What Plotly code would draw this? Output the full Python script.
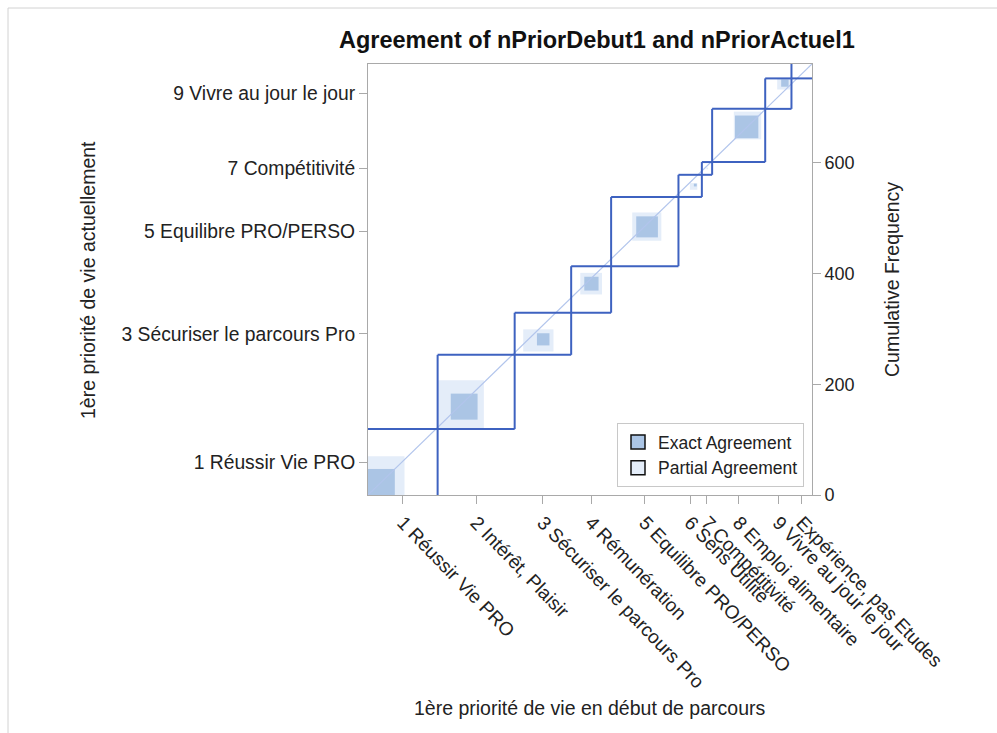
import numpy as np
import plotly.graph_objects as go

# Categories (same coding for both ratings)
labels = ["1 Réussir Vie PRO", "2 Intérêt, Plaisir", "3 Sécuriser le parcours Pro",
          "4 Rémunération", "5 Equilibre PRO/PERSO", "6 Sens Utilité",
          "7 Compétitivité", "8 Emploi alimentaire", "9 Vivre au jour le jour",
          "Expérience, pas Etudes"]

# Marginal totals: columns = début de parcours (x), rows = actuellement (y)
col_totals = [122, 135, 99, 70, 118, 41, 18, 93, 46, 36]
row_totals = [119, 134, 76, 84, 125, 40, 23, 96, 55, 26]

# Diagonal (exact agreement) counts n[i][i]
exact = [47, 47, 22, 25, 38, 5, 0, 41, 13, 0]
# Adjacent cells: upper_adj[i] = n[row i][col i+1], lower_adj[i] = n[row i+1][col i]
upper_adj = [23, 24, 7, 7, 7, 1, 2, 7, 2]
lower_adj = [17, 11, 7, 6, 6, 1, 2, 5, 3]
# Counts lying further below the diagonal band inside each column / row
col_far = [0, 0, 15, 16, 37, 20, 8, 38, 21, 30]
row_far = [0, 0, 6, 33, 46, 13, 10, 41, 35, 20]

right_ticks = [0, 200, 400, 600]

N = sum(col_totals)
X = np.concatenate([[0], np.cumsum(col_totals)])
Y = np.concatenate([[0], np.cumsum(row_totals)])
k = len(labels)

DARK = "#abc5e5"
LIGHT = "#e4edf9"
OUTLINE = "#3e62c0"
DIAG = "#b2c5ec"
FRAME = "#a9a9a9"
TXT = "#222222"
FONT = "Liberation Sans, Arial, sans-serif"


def box(x0, x1, y0, y1):
    return [x0, x1, x1, x0, x0], [y0, y0, y1, y1, y0]


fig = go.Figure()

# Partial agreement boxes, then exact agreement squares
for kind in ("partial", "exact"):
    for i in range(k):
        a = upper_adj[i - 1] if i > 0 else 0      # n[i-1][i]
        b = lower_adj[i] if i < k - 1 else 0      # n[i+1][i]
        c = lower_adj[i - 1] if i > 0 else 0      # n[i][i-1]
        d = upper_adj[i] if i < k - 1 else 0      # n[i][i+1]
        if kind == "partial":
            x0 = X[i] + col_far[i]
            x1 = x0 + a + exact[i] + b
            y0 = Y[i] + row_far[i]
            y1 = y0 + c + exact[i] + d
            color = LIGHT
        else:
            if exact[i] == 0:
                continue
            x0 = X[i] + col_far[i] + a
            x1 = x0 + exact[i]
            y0 = Y[i] + row_far[i] + c
            y1 = y0 + exact[i]
            color = DARK
        xs, ys = box(x0, x1, y0, y1)
        fig.add_trace(go.Scatter(x=xs, y=ys, mode="lines", fill="toself",
                                 fillcolor=color, line=dict(width=0, color=color),
                                 showlegend=False, hoverinfo="skip"))

# Diagonal reference line
fig.add_trace(go.Scatter(x=[0, N], y=[0, N], mode="lines",
                         line=dict(color=DIAG, width=1.2),
                         showlegend=False, hoverinfo="skip"))

# Category rectangles (column width x row height); edges on the frame are left to the axes
rx, ry = [], []
for i in range(k):
    x0, x1, y0, y1 = X[i], X[i + 1], Y[i], Y[i + 1]
    edges = [((x0, y0), (x1, y0)), ((x1, y0), (x1, y1)),
             ((x1, y1), (x0, y1)), ((x0, y1), (x0, y0))]
    for (ax, ay), (bx, by) in edges:
        on_frame = (ax == bx and ax in (0, N)) or (ay == by and ay in (0, N))
        if on_frame:
            continue
        rx += [ax, bx, None]
        ry += [ay, by, None]
fig.add_trace(go.Scatter(x=rx, y=ry, mode="lines",
                         line=dict(color=OUTLINE, width=2),
                         showlegend=False, hoverinfo="skip"))

# Legend entries
for name, color in (("Exact Agreement", DARK), ("Partial Agreement", LIGHT)):
    fig.add_trace(go.Scatter(x=[None], y=[None], mode="markers", name=name,
                             marker=dict(symbol="square", size=14, color=color,
                                         line=dict(color="#111111", width=1.5))))

# Invisible anchor for the cumulative-frequency axis
fig.add_trace(go.Scatter(x=[0], y=[0], yaxis="y2", mode="markers",
                         marker=dict(opacity=0), showlegend=False, hoverinfo="skip"))

xc = (X[:-1] + X[1:]) / 2
yc = (Y[:-1] + Y[1:]) / 2
odd = list(range(0, k, 2))[:5]

L, R, T, B = 368, 812, 64, 495
W, H = R - L, B - T


def px(x):
    return (x - L) / W


def py(y):
    return (B - y) / H


fig.update_layout(
    width=997, height=733,
    margin=dict(l=L, r=997 - R, t=T, b=733 - B),
    paper_bgcolor="white", plot_bgcolor="white",
    font=dict(family=FONT, color=TXT, size=19),
    xaxis=dict(range=[0, N], tickvals=xc.tolist(), ticktext=labels,
               tickangle=46, ticks="outside", ticklen=8, tickcolor=FRAME,
               showline=True, linecolor=FRAME, linewidth=1, mirror=True,
               showgrid=False, zeroline=False, fixedrange=True,
               tickfont=dict(size=19, color=TXT)),
    yaxis=dict(range=[0, N], tickvals=[yc[i] for i in odd],
               ticktext=[labels[i] for i in odd],
               ticks="outside", ticklen=8, tickcolor=FRAME,
               showline=True, linecolor=FRAME, linewidth=1, mirror=True,
               showgrid=False, zeroline=False, fixedrange=True,
               tickfont=dict(size=19.3, color=TXT)),
    yaxis2=dict(range=[0, N], overlaying="y", side="right",
                tickvals=right_ticks, ticks="outside", ticklen=8, tickcolor=FRAME,
                showline=True, linecolor=FRAME, showgrid=False, zeroline=False,
                fixedrange=True, tickfont=dict(size=18, color=TXT)),
    legend=dict(x=px(804), y=py(487), xanchor="right", yanchor="bottom",
                bgcolor="white", bordercolor="#c8c8c8", borderwidth=1,
                font=dict(size=17.5, color=TXT), tracegroupgap=0),
    showlegend=True,
)

annotations = [
    dict(text="<b>Agreement of nPriorDebut1 and nPriorActuel1</b>",
         x=px(597), y=py(40), font=dict(size=23.5, color="#111111")),
    dict(text="1ère priorité de vie en début de parcours",
         x=px(589), y=py(708), font=dict(size=19.5)),
    dict(text="1ère priorité de vie actuellement",
         x=px(88), y=py(280), textangle=-90, font=dict(size=19.5)),
    dict(text="Cumulative Frequency",
         x=px(892), y=py(280), textangle=-90, font=dict(size=19.5)),
]
for a in annotations:
    a.update(xref="paper", yref="paper", showarrow=False,
             xanchor="center", yanchor="middle")
fig.update_layout(annotations=annotations)

# Outer output frame
fig.add_shape(type="rect", xref="paper", yref="paper",
              x0=px(8), x1=px(1010), y0=py(745), y1=py(8),
              line=dict(color="#d2d2d2", width=1), fillcolor="rgba(0,0,0,0)",
              layer="below")

fig.write_html("out.html")
